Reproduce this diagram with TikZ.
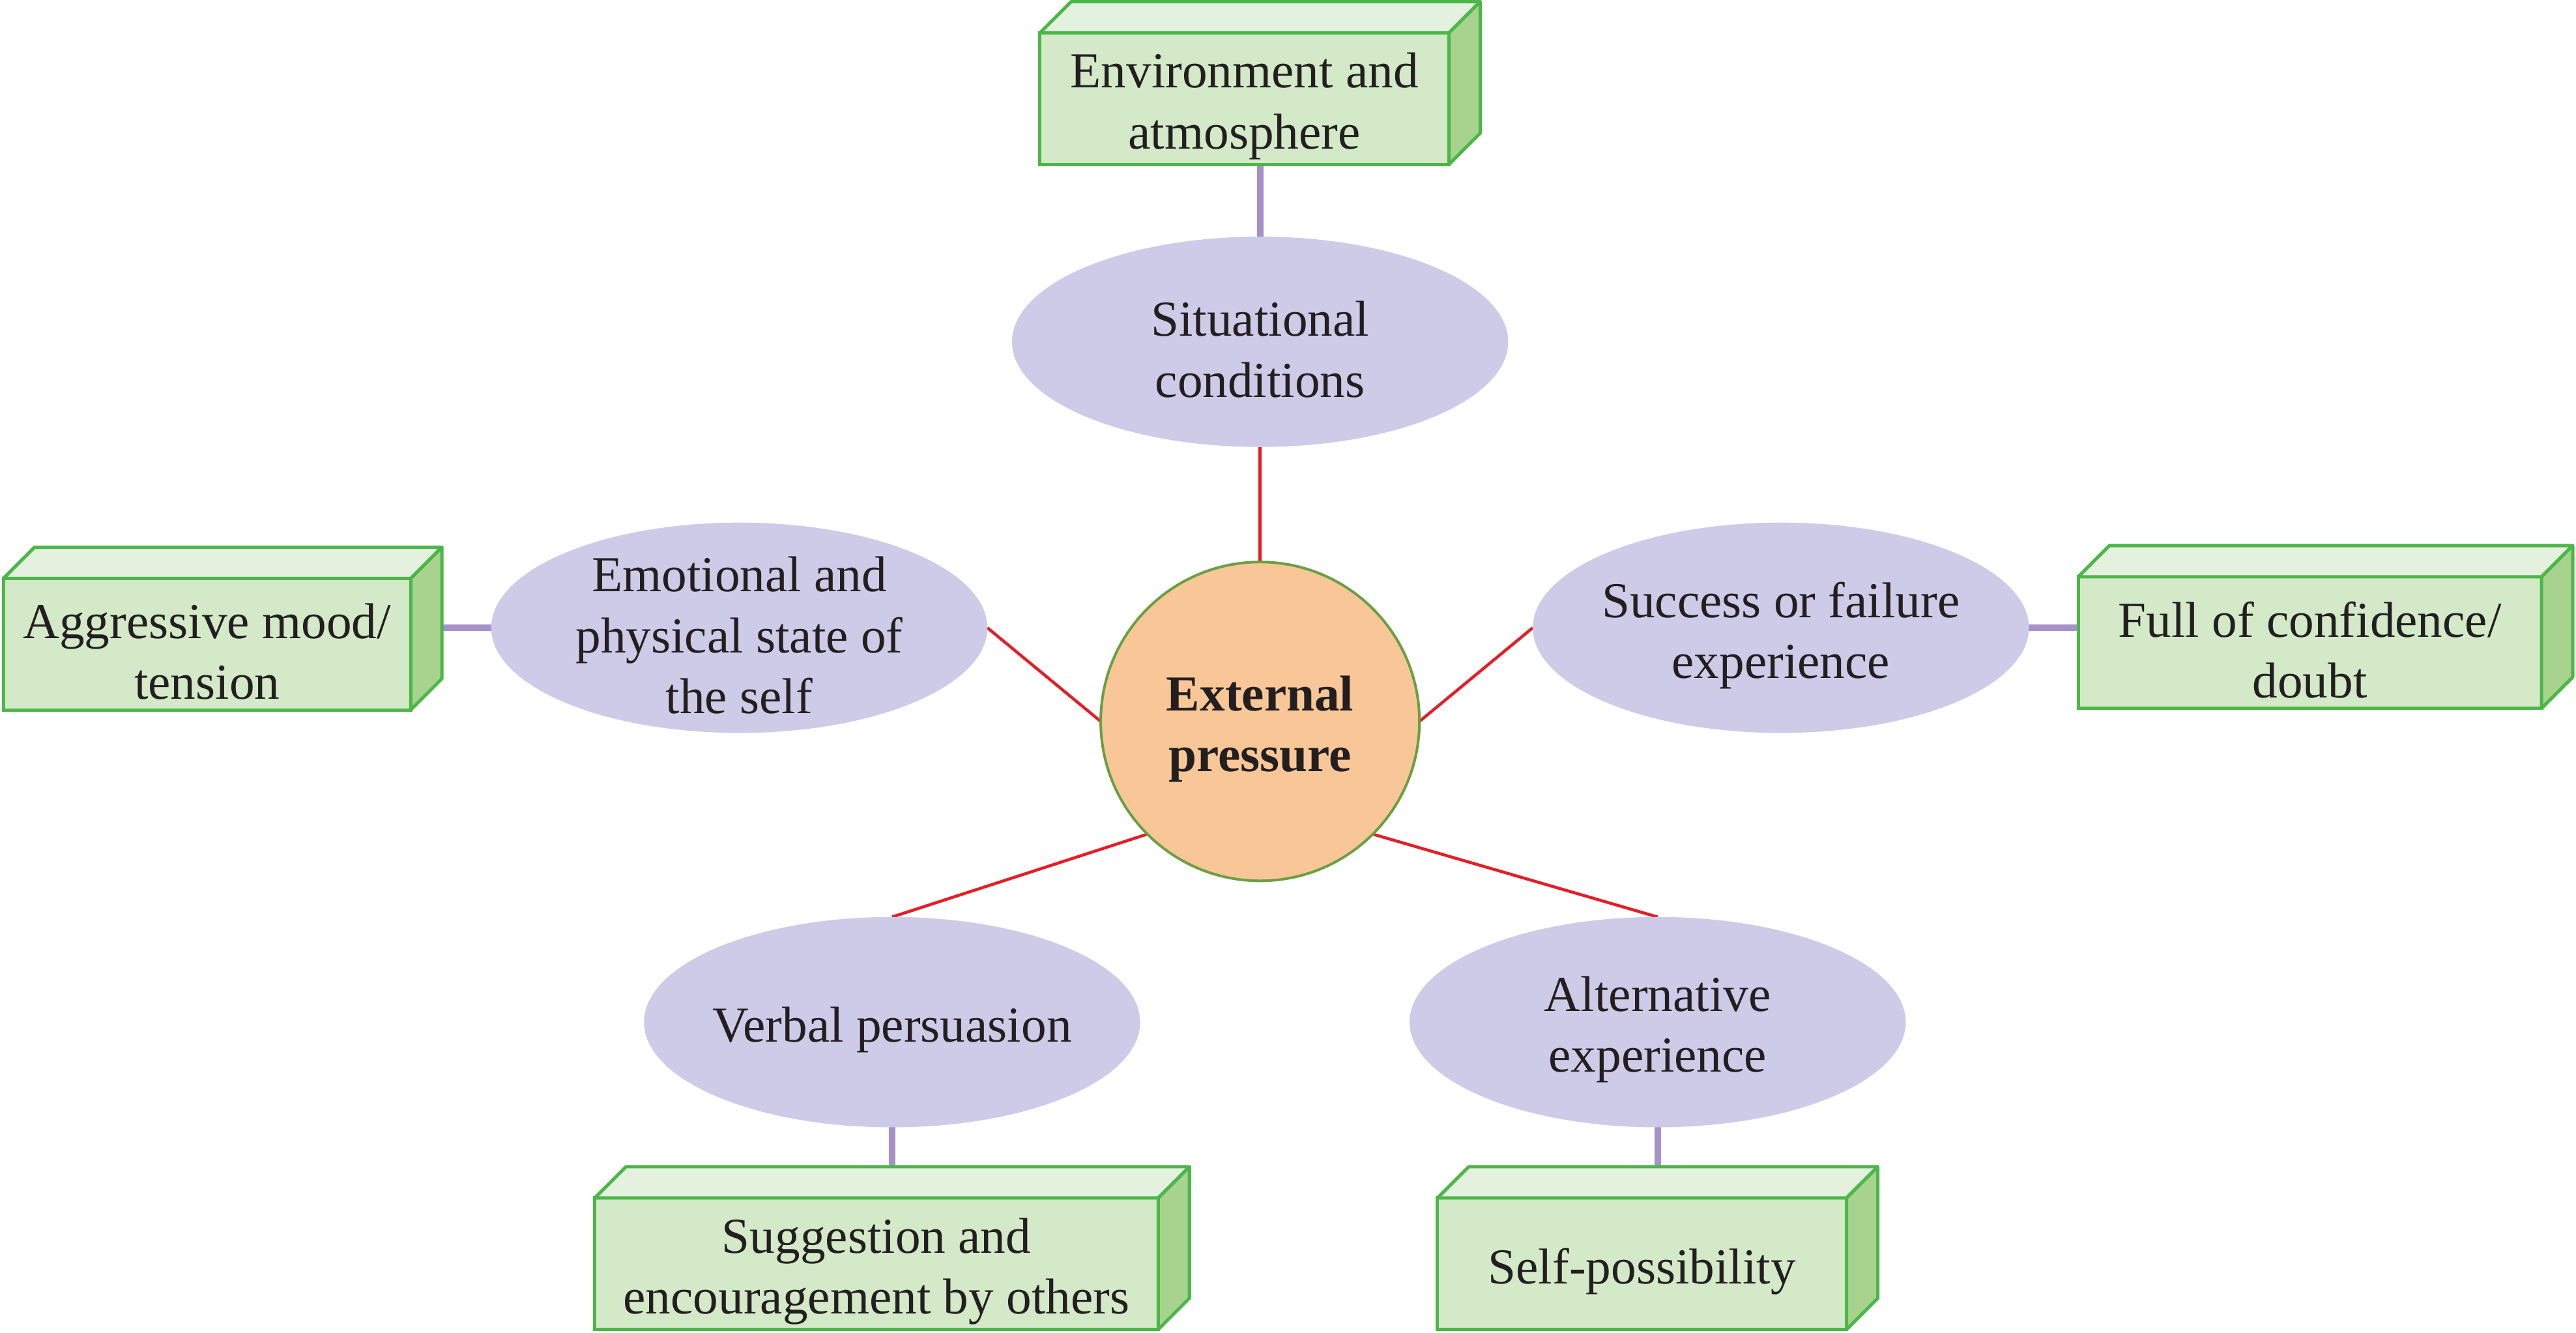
\documentclass[tikz,border=0pt]{standalone}
\usepackage{fontspec}
\setmainfont{Liberation Serif}
\usetikzlibrary{shapes.geometric,backgrounds,calc}
\definecolor{boxfront}{RGB}{211,233,200}
\definecolor{boxtop}{RGB}{229,241,223}
\definecolor{boxside}{RGB}{168,211,143}
\definecolor{boxedge}{RGB}{76,183,72}
\definecolor{ellfill}{RGB}{206,203,232}
\definecolor{hubfill}{RGB}{249,199,151}
\definecolor{hubedge}{RGB}{106,160,67}
\definecolor{redline}{RGB}{228,30,38}
\definecolor{purpline}{RGB}{166,145,201}
\definecolor{textcol}{RGB}{35,31,32}
\newcommand\cubesides[1]{%
  \filldraw[fill=boxtop,draw=boxedge,line width=1mm,line join=round]
    (#1.north west) -- ++(19,-19) -- ($(#1.north east)+(19,-19)$) -- (#1.north east) -- cycle;
  \filldraw[fill=boxside,draw=boxedge,line width=1mm,line join=round]
    (#1.north east) -- ++(19,-19) -- ($(#1.south east)+(19,-19)$) -- (#1.south east) -- cycle;}
\begin{document}
\begin{tikzpicture}[x=0.5mm,y=-0.5mm,
  txt/.style={font=\fontsize{43.6}{52.6}\selectfont,align=center,text=textcol},
  lbl/.style={label={[txt,yshift=-2.3mm]center:{#1}}},
  blbl/.style={label={[txt,yshift=-2.3mm,font=\bfseries\fontsize{43.6}{52.6}\selectfont]center:{#1}}},
  ell/.style={ellipse,fill=ellfill,draw=none,minimum width=151mm,minimum height=64mm,inner sep=0pt,outer sep=0pt},
  cube/.style={rectangle,fill=boxfront,draw=boxedge,line width=1mm,minimum height=40mm,inner sep=0pt,outer sep=0pt},
  hub/.style={circle,fill=hubfill,draw=hubedge,line width=0.8mm,minimum size=97mm,inner sep=0pt,outer sep=0pt},
  redl/.style={draw=redline,line width=0.9mm},
  purl/.style={draw=purpline,line width=2mm,line cap=round}]
\useasboundingbox (0,0) rectangle (1568,811);

% hub
\node[hub,blbl={External\\pressure}] (c) at (767,439) {};

% ellipses
\node[ell,lbl={Situational\\conditions}] (e1) at (767,208) {};
\node[ell,lbl={Emotional and\\physical state of\\the self}] (e2) at (450,382) {};
\node[ell,lbl={Success or failure\\experience}] (e3) at (1084,382) {};
\node[ell,lbl={Verbal persuasion}] (e4) at (543,622) {};
\node[ell,lbl={Alternative\\experience}] (e5) at (1009,622) {};

% boxes
\node[cube,minimum width=124.5mm,lbl={Environment and\\atmosphere}] (b1) at (757.5,60) {};
\cubesides{b1}
\node[cube,minimum width=124mm,lbl={Aggressive mood/\\tension}] (b2) at (126,392) {};
\cubesides{b2}
\node[cube,minimum width=141mm,lbl={Full of confidence/\\doubt}] (b3) at (1406,391) {};
\cubesides{b3}
\node[cube,minimum width=171.5mm,lbl={Suggestion and\\encouragement by others}] (b4) at (533.5,769) {};
\cubesides{b4}
\node[cube,minimum width=124.5mm,lbl={Self-possibility}] (b5) at (999.5,769) {};
\cubesides{b5}

% connectors
\begin{scope}[on background layer]
\draw[redl] (e1.south) -- (c.north);
\draw[redl] (e2.east) -- (c.west);
\draw[redl] (e3.west) -- (c.east);
\draw[redl] (c.south west) -- (e4.north);
\draw[redl] (c.south east) -- (e5.north);
\draw[purl] (e1.north) -- (e1.north |- b1.south);
\draw[purl] (e2.west) -- (e2.west -| b2.east);
\draw[purl] (e3.east) -- (e3.east -| b3.west);
\draw[purl] (e4.south) -- (e4.south |- b4.north);
\draw[purl] (e5.south) -- (e5.south |- b5.north);
\end{scope}
\end{tikzpicture}
\end{document}
